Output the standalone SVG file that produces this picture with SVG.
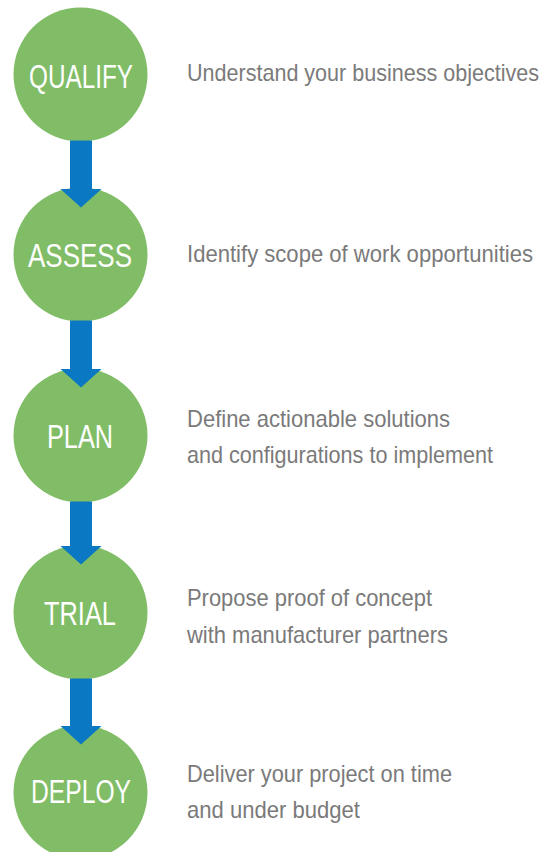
<svg xmlns="http://www.w3.org/2000/svg" width="555" height="852" viewBox="0 0 555 852">
<style>
.c{fill:#80bd66}
.l{fill:#ffffff;font-family:"Liberation Sans Narrow","Liberation Sans",Arial,sans-serif;font-size:34px;text-anchor:middle}
.t{fill:#7a7a7a;font-family:"Liberation Sans Narrow","Liberation Sans",Arial,sans-serif;font-size:24px}
.a{fill:#0a78c2}
</style>
<rect width="555" height="852" fill="#ffffff"/>
<g id="qualify">
<circle class="c" cx="80.5" cy="74.5" r="67"/>
<text class="l" x="81" y="88" textLength="104" lengthAdjust="spacingAndGlyphs">QUALIFY</text>
<text class="t" x="187" y="81" textLength="352" lengthAdjust="spacingAndGlyphs">Understand your business objectives</text>
</g>
<g id="assess">
<circle class="c" cx="80.5" cy="254.5" r="67"/>
<text class="l" x="80" y="267" textLength="104" lengthAdjust="spacingAndGlyphs">ASSESS</text>
<text class="t" x="187" y="262" textLength="346" lengthAdjust="spacingAndGlyphs">Identify scope of work opportunities</text>
</g>
<g id="plan">
<circle class="c" cx="80.5" cy="435.5" r="67"/>
<text class="l" x="80" y="448" textLength="66" lengthAdjust="spacingAndGlyphs">PLAN</text>
<text class="t" x="187" y="427" textLength="263" lengthAdjust="spacingAndGlyphs">Define actionable solutions</text>
<text class="t" x="187" y="463" textLength="306" lengthAdjust="spacingAndGlyphs">and configurations to implement</text>
</g>
<g id="trial">
<circle class="c" cx="80.5" cy="612.5" r="67"/>
<text class="l" x="80" y="625" textLength="72" lengthAdjust="spacingAndGlyphs">TRIAL</text>
<text class="t" x="187" y="606" textLength="245" lengthAdjust="spacingAndGlyphs">Propose proof of concept</text>
<text class="t" x="187" y="643" textLength="261" lengthAdjust="spacingAndGlyphs">with manufacturer partners</text>
</g>
<g id="deploy">
<circle class="c" cx="80.5" cy="792.5" r="67"/>
<text class="l" x="81" y="803" textLength="100" lengthAdjust="spacingAndGlyphs">DEPLOY</text>
<text class="t" x="187" y="782" textLength="265" lengthAdjust="spacingAndGlyphs">Deliver your project on time</text>
<text class="t" x="187" y="818" textLength="173" lengthAdjust="spacingAndGlyphs">and under budget</text>
</g>
<g id="connectors">
<path class="a" d="M70,140.5H92V189H101.5L81,207.5L60.5,189H70Z"/>
<path class="a" d="M70,320.5H92V369H101.5L81,387.5L60.5,369H70Z"/>
<path class="a" d="M70,501.5H92V546H101.5L81,564.5L60.5,546H70Z"/>
<path class="a" d="M70,678.5H92V726H101.5L81,744.5L60.5,726H70Z"/>
</g>
</svg>
